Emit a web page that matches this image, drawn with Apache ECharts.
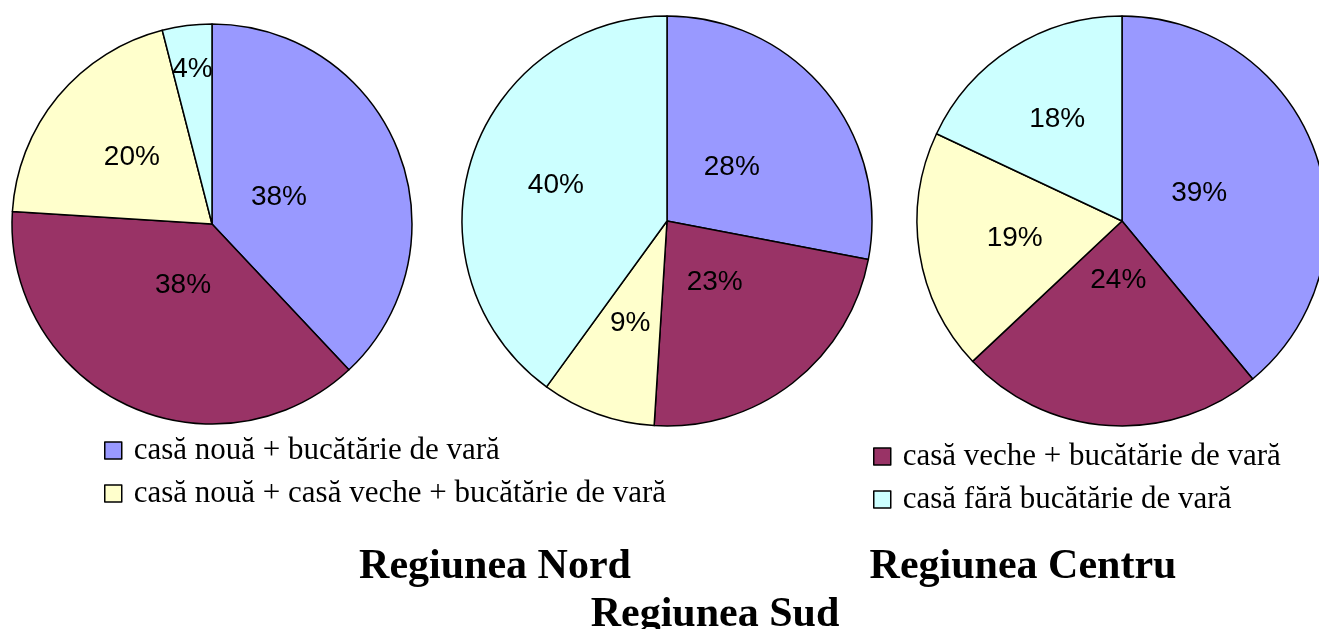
<!DOCTYPE html>
<html>
<head>
<meta charset="utf-8">
<script src="https://cdn.jsdelivr.net/npm/echarts@6/dist/echarts.min.js"></script>
<style>
  html, body { margin: 0; padding: 0; background: #fff; }
  #chart { width: 1319px; height: 629px; }
</style>
</head>
<body>
<div id="chart"></div>
<script>
// categorii (ordinea feliilor, in sensul acelor de ceasornic de la ora 12)
const categories = [
  'casă nouă + bucătărie de vară',
  'casă veche + bucătărie de vară',
  'casă nouă + casă veche + bucătărie de vară',
  'casă fără bucătărie de vară'
]
const regions = ['Regiunea Nord', 'Regiunea Sud', 'Regiunea Centru']
const nordValues = [38, 38, 20, 4]
const sudValues = [28, 23, 9, 40]
const centruValues = [39, 24, 19, 18]

const COLORS = ['#9999FF', '#993366', '#FFFFCC', '#CCFFFF']

// aspect: pozitia pie-urilor si cat de departe de centru stau etichetele
const pies = [
  { values: nordValues, center: [212, 224], radius: 200, labelFrac: [0.36, 0.34, 0.52, 0.78] },
  { values: sudValues, center: [667, 221], radius: 205, labelFrac: [0.41, 0.38, 0.53, 0.57] },
  { values: centruValues, center: [1122, 221], radius: 205, labelFrac: [0.40, 0.29, 0.53, 0.59] }
]

function labelPos(p, idx) {
  const total = p.values.reduce((a, b) => a + b, 0)
  let cum = 0
  for (let i = 0; i < idx; i++) cum += p.values[i]
  const mid = (cum + p.values[idx] / 2) / total * Math.PI * 2
  const d = p.labelFrac[idx] * p.radius
  return { x: p.center[0] + d * Math.sin(mid), y: p.center[1] - d * Math.cos(mid) }
}

const chart = echarts.init(document.getElementById('chart'))

const series = pies.map((p, s) => ({
  name: regions[s],
  type: 'pie',
  center: p.center,
  radius: p.radius,
  startAngle: 90,
  clockwise: true,
  avoidLabelOverlap: false,
  silent: true,
  data: p.values.map((v, i) => ({ name: categories[i], value: v })),
  itemStyle: { borderColor: '#000', borderWidth: 1.5 },
  label: {
    show: true,
    position: 'inside',
    formatter: '{c}%',
    fontFamily: 'Liberation Sans, Arial, sans-serif',
    fontSize: 28,
    color: '#000',
    align: 'center',
    verticalAlign: 'middle'
  },
  labelLine: { show: false },
  labelLayout: function (params) {
    return labelPos(p, params.dataIndex)
  }
}))

const legendText = {
  fontFamily: 'Liberation Serif, Times New Roman, serif',
  fontSize: 31,
  lineHeight: 31,
  color: '#000',
  padding: [0, 0, 0, 7]
}

const legendBase = {
  orient: 'vertical',
  itemGap: 12,
  itemWidth: 17,
  itemHeight: 17,
  icon: 'rect',
  itemStyle: { borderColor: '#000', borderWidth: 1.5 },
  textStyle: legendText,
  selectedMode: false
}

const option = {
  backgroundColor: '#fff',
  animation: false,
  color: COLORS,
  title: [
    { text: regions[0], left: 490, top: 541 },
    { text: regions[2], left: 1018, top: 541 },
    { text: regions[1], left: 710, top: 589 }
  ].map(t => ({
    text: t.text,
    left: t.left,
    top: t.top,
    textAlign: 'center',
    textStyle: {
      fontFamily: 'Liberation Serif, Times New Roman, serif',
      fontWeight: 'bold',
      fontSize: 42,
      color: '#000'
    }
  })),
  legend: [
    Object.assign({ data: [categories[0], categories[2]], left: 99, top: 430 }, legendBase),
    Object.assign({ data: [categories[1], categories[3]], left: 868, top: 436 }, legendBase)
  ],
  series: series
}

chart.setOption(option)
</script>
</body>
</html>
